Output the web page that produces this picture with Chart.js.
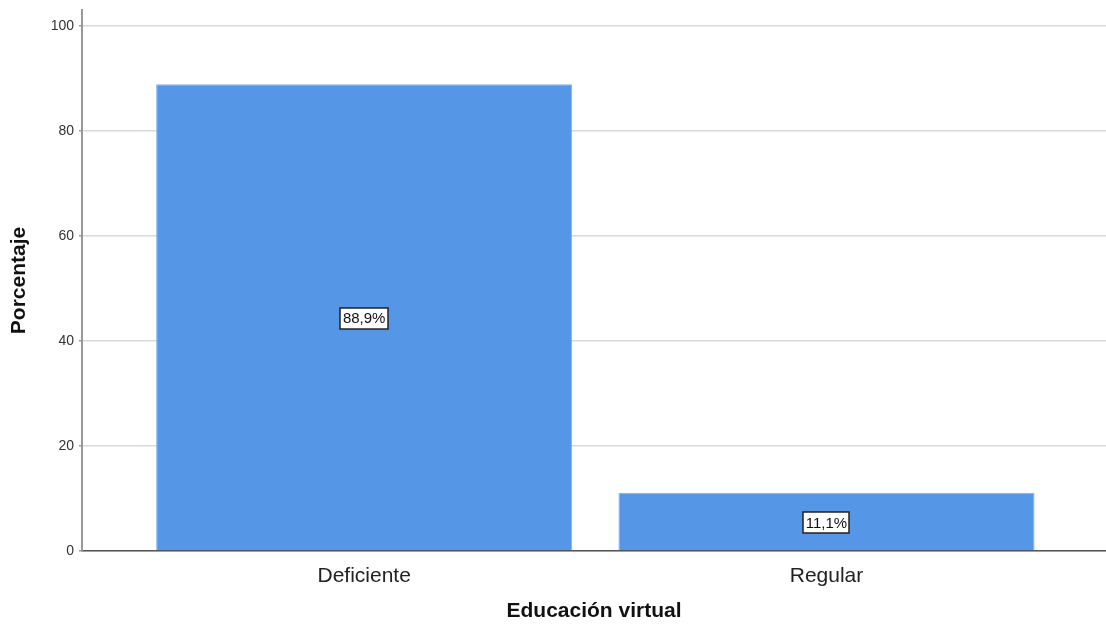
<!DOCTYPE html>
<html>
<head>
<meta charset="utf-8">
<script src="https://cdn.jsdelivr.net/npm/chart.js@4.4.1/dist/chart.umd.min.js"></script>
<style>
html,body{margin:0;padding:0;background:#fff;}
#wrap{position:relative;width:1106px;height:624px;}
</style>
</head>
<body>
<div id="wrap"><canvas id="c"></canvas></div>
<script>
const categories = ['Deficiente', 'Regular'];
const percentages = [88.9, 11.1];
const valueLabels = ['88,9%', '11,1%'];
const yTickValues = [0, 20, 40, 60, 80, 100];
const xTitle = 'Educación virtual';
const yTitle = 'Porcentaje';

const FAMILY = '"Liberation Sans", Arial, sans-serif';

const boxLabels = {
  id: 'boxLabels',
  afterDatasetsDraw(chart) {
    const ctx = chart.ctx;
    const meta = chart.getDatasetMeta(0);
    ctx.save();
    ctx.font = '15px ' + FAMILY;
    ctx.textAlign = 'center';
    ctx.textBaseline = 'middle';
    meta.data.forEach((bar, i) => {
      const t = valueLabels[i];
      const cx = bar.x;
      const cy = (bar.y + bar.base) / 2 + 1;
      const w = Math.round(ctx.measureText(t).width + 5);
      const h = 21;
      const x0 = Math.round(cx - w / 2), y0 = Math.round(cy - h / 2);
      ctx.fillStyle = '#ffffff';
      ctx.fillRect(x0, y0, w, h);
      ctx.strokeStyle = '#222';
      ctx.lineWidth = 1.5;
      ctx.strokeRect(x0, y0, w, h);
      ctx.fillStyle = '#111';
      ctx.fillText(t, cx, cy + 1);
    });
    ctx.restore();
  }
};

new Chart(document.getElementById('c'), {
  type: 'bar',
  data: {
    datasets: [{
      data: categories.map((c, i) => ({ x: i, y: percentages[i] })),
      backgroundColor: '#5596e6',
      borderColor: '#7fb0ee',
      borderWidth: 1,
      categoryPercentage: 1,
      barPercentage: 0.9
    }]
  },
  options: {
    responsive: true,
    maintainAspectRatio: false,
    animation: false,
    layout: { padding: { top: 10, left: 0, right: 0, bottom: 0 } },
    plugins: { legend: { display: false }, tooltip: { enabled: false } },
    scales: {
      x: {
        type: 'linear',
        offset: false,
        min: -0.6104,
        max: 1.6046,
        afterBuildTicks: s => { s.ticks = categories.map((c, i) => ({ value: i })); },
        afterFit: s => { s.height = 73; s.paddingLeft = 0; s.paddingRight = 0; },
        ticks: {
          callback: v => categories[v],
          font: { family: FAMILY, size: 21 },
          color: '#222',
          padding: 13,
          autoSkip: false,
          maxRotation: 0
        },
        grid: { display: false, drawTicks: false, offset: false },
        border: { display: true, color: '#555', width: 1.5 },
        title: {
          display: true, text: xTitle, color: '#111', padding: 0,
          font: { family: FAMILY, size: 21, weight: 'bold' }
        }
      },
      y: {
        min: 0,
        max: 103.05,
        afterBuildTicks: s => { s.ticks = yTickValues.map(v => ({ value: v })); },
        afterFit: s => { s.width = 82; s.paddingTop = 0; s.paddingBottom = 0; },
        ticks: { font: { family: FAMILY, size: 14 }, color: '#333', padding: 5 },
        grid: { color: '#d9d9d9', lineWidth: 1.5, tickLength: 3, tickColor: '#999' },
        border: { color: '#999', width: 2 },
        title: {
          display: true, text: yTitle, color: '#111', padding: { top: 7, bottom: 0 },
          font: { family: FAMILY, size: 21, weight: 'bold' }
        }
      }
    }
  },
  plugins: [boxLabels]
});
</script>
</body>
</html>
